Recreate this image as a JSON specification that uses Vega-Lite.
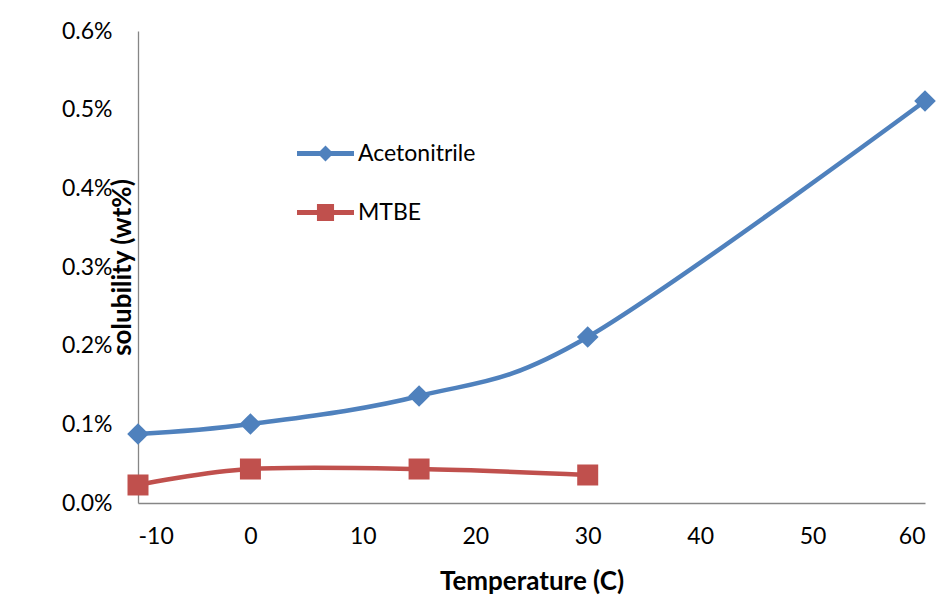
{
  "$schema": "https://vega.github.io/schema/vega-lite/v6.json",
  "width": 787,
  "height": 472,
  "autosize": {"type": "none"},
  "padding": {"left": 138, "top": 31, "right": 23, "bottom": 100},
  "background": "white",
  "config": {
    "view": {"stroke": null},
    "font": "Lato",
    "axis": {
      "grid": false,
      "ticks": false,
      "tickSize": 0,
      "domainColor": "#868686",
      "domainWidth": 1.3,
      "labelFont": "Lato",
      "labelFontSize": 23,
      "labelColor": "black",
      "titleFont": "Lato",
      "titleFontSize": 26,
      "titleFontWeight": "bold",
      "titleColor": "black"
    }
  },
  "data": {
    "values": [
      {"temp": -10, "sol": 0.000877, "solvent": "Acetonitrile"},
      {"temp": 0, "sol": 0.001004, "solvent": "Acetonitrile"},
      {"temp": 15, "sol": 0.00136, "solvent": "Acetonitrile"},
      {"temp": 30, "sol": 0.00211, "solvent": "Acetonitrile"},
      {"temp": 60, "sol": 0.00511, "solvent": "Acetonitrile"},
      {"temp": -10, "sol": 0.000229, "solvent": "MTBE"},
      {"temp": 0, "sol": 0.000432, "solvent": "MTBE"},
      {"temp": 15, "sol": 0.000432, "solvent": "MTBE"},
      {"temp": 30, "sol": 0.000356, "solvent": "MTBE"}
    ]
  },
  "encoding": {
    "x": {
      "field": "temp",
      "type": "quantitative",
      "scale": {"domain": [-10, 60], "nice": false, "zero": false},
      "axis": {
        "values": [-10, 0, 10, 20, 30, 40, 50, 60],
        "labelExpr": "'' + datum.value",
        "title": "Temperature (C)",
        "labelPadding": 22,
        "titleY": 78,
        "titleBaseline": "middle"
      }
    },
    "y": {
      "field": "sol",
      "type": "quantitative",
      "scale": {"domain": [0, 0.006], "nice": false},
      "axis": {
        "values": [0, 0.001, 0.002, 0.003, 0.004, 0.005, 0.006],
        "format": ".1%",
        "title": "solubility (wt%)",
        "labelPadding": 26,
        "titleX": -16,
        "titleY": 236,
        "titleAngle": -90,
        "titleAlign": "center",
        "titleBaseline": "middle"
      }
    },
    "color": {
      "field": "solvent",
      "type": "nominal",
      "scale": {"domain": ["Acetonitrile", "MTBE"], "range": ["#4F81BD", "#C0504D"]},
      "legend": {
        "orient": "none",
        "legendX": 159,
        "legendY": 94,
        "title": null,
        "padding": 0,
        "symbolSize": 3249,
        "symbolStrokeWidth": 0,
        "labelFont": "Lato",
        "labelFontSize": 23,
        "labelColor": "black",
        "labelOffset": 4,
        "rowPadding": 18,
        "encode": {
          "symbols": {
            "update": {
              "shape": {"signal": "datum.value === 'MTBE' ? 'M-1,-0.085H1V0.085H-1Z M-0.3,-0.3H0.3V0.3H-0.3Z' : 'M-1,-0.085H1V0.085H-1Z M0,-0.28L0.28,0L0,0.28L-0.28,0Z'"},
              "fill": {"signal": "scale('color', datum.value)"},
              "opacity": {"value": 1},
              "strokeWidth": {"value": 0}
            }
          }
        }
      }
    }
  },
  "layer": [
    {"mark": {"type": "line", "interpolate": "cardinal", "strokeWidth": 4.5}},
    {
      "transform": [{"filter": "datum.solvent === 'Acetonitrile'"}],
      "mark": {"type": "point", "shape": "diamond", "filled": true, "opacity": 1, "size": 470}
    },
    {
      "transform": [{"filter": "datum.solvent === 'MTBE'"}],
      "mark": {"type": "point", "shape": "square", "filled": true, "opacity": 1, "size": 441}
    }
  ]
}
